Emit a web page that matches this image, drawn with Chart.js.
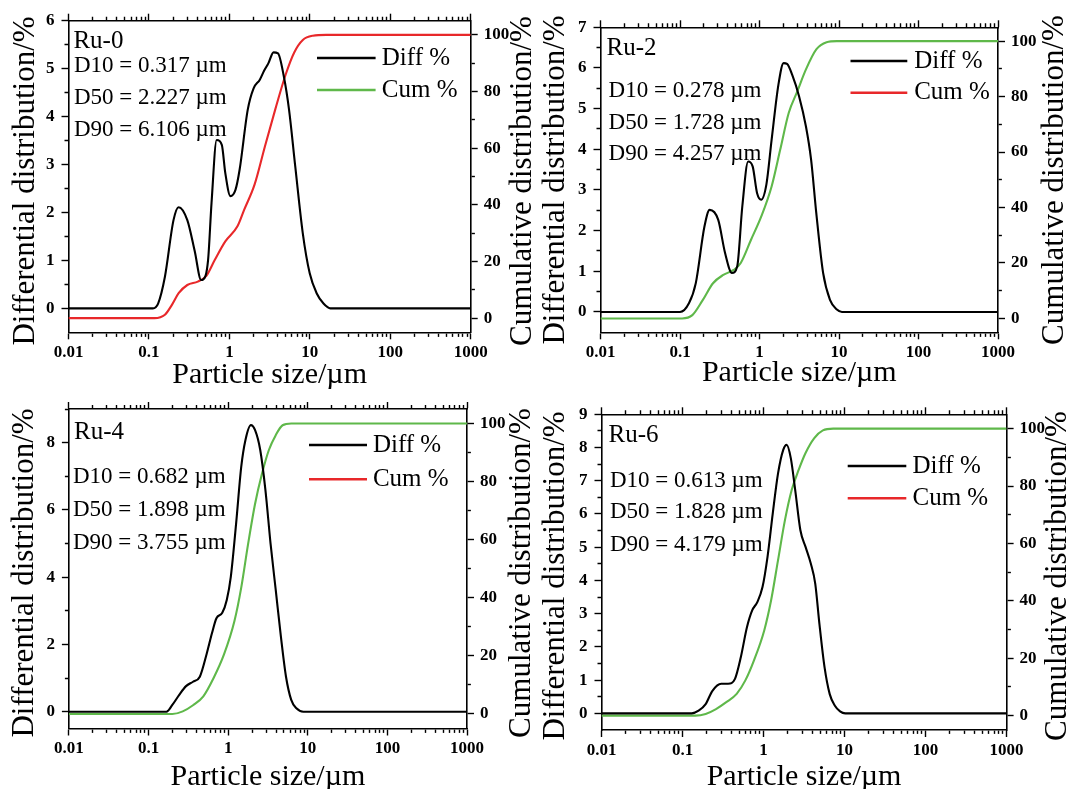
<!DOCTYPE html>
<html>
<head>
<meta charset="utf-8">
<script src="https://cdn.jsdelivr.net/npm/chart.js@4.4.1/dist/chart.umd.min.js"></script>
<style>
  body { margin: 0; background: #fff; }
  #wrap { position: relative; width: 1070px; height: 789px; overflow: hidden; background: #fff; }
  #wrap canvas { position: absolute; }
</style>
</head>
<body>
<div id="wrap"></div>
<script>
// =======================
// DATA
// =======================
const names = ["Ru-0", "Ru-2", "Ru-4", "Ru-6"];
const d10 = [0.317, 0.278, 0.682, 0.613];
const d50 = [2.227, 1.728, 1.898, 1.828];
const d90 = [6.106, 4.257, 3.755, 4.179];

// Ru-0
const ru0Size = [0.01, 0.112, 0.13, 0.158, 0.202, 0.234, 0.30, 0.37, 0.446, 0.47, 0.543, 0.6, 0.695, 0.805, 0.89, 1.03, 1.19, 1.34, 1.69, 2.0, 2.39, 2.71, 3.05, 3.54, 4.02, 4.75, 5.52, 6.59, 8.17, 9.97, 12.2, 14.8, 18.0, 1000];
const ru0Diff = [0, 0, 0.1, 0.66, 1.84, 2.11, 1.84, 1.2, 0.59, 0.6, 1.0, 2.2, 3.51, 3.41, 2.82, 2.34, 2.47, 2.89, 4.14, 4.59, 4.77, 4.96, 5.11, 5.34, 5.32, 4.84, 4.14, 2.96, 1.57, 0.73, 0.31, 0.1, 0, 0];
const ru0CumSize = [0.01, 0.117, 0.158, 0.193, 0.234, 0.30, 0.405, 0.517, 0.66, 0.89, 1.26, 1.53, 2.06, 2.77, 3.72, 5.01, 6.4, 8.18, 10.9, 16, 1000];
const ru0Cum = [0, 0, 1.2, 4.7, 8.8, 11.7, 12.9, 14.9, 20.6, 27.1, 32.4, 38.3, 47.2, 60.7, 73.7, 86.0, 93.8, 98.2, 99.7, 100, 100];

// Ru-2
const ru2Size = [0.01, 0.1, 0.13, 0.158, 0.203, 0.236, 0.302, 0.369, 0.45, 0.524, 0.608, 0.72, 0.82, 0.933, 1.05, 1.22, 1.42, 1.73, 2.01, 2.22, 2.58, 3.15, 3.84, 4.46, 5.18, 6.31, 7.7, 9.4, 10.9, 1000];
const ru2Diff = [0, 0, 0.22, 0.71, 2.10, 2.51, 2.27, 1.45, 0.96, 1.12, 2.6, 3.70, 3.58, 2.92, 2.76, 3.13, 4.23, 5.59, 6.12, 6.10, 5.83, 5.30, 4.56, 3.74, 2.43, 0.96, 0.30, 0.06, 0, 0];
const ru2CumSize = [0.01, 0.106, 0.143, 0.193, 0.26, 0.351, 0.473, 0.578, 0.78, 1.05, 1.42, 1.82, 2.33, 2.99, 3.84, 5.18, 6.98, 9.4, 1000];
const ru2Cum = [0, 0, 1.2, 6.6, 12.7, 15.7, 17.5, 19.9, 28.3, 36.7, 47.6, 60.8, 74.1, 81.9, 89.8, 97, 99.6, 100, 100];

// Ru-4
const ru4Size = [0.01, 0.168, 0.199, 0.243, 0.296, 0.362, 0.441, 0.539, 0.626, 0.713, 0.844, 0.961, 1.08, 1.26, 1.46, 1.65, 1.93, 2.18, 2.53, 2.94, 3.41, 3.96, 4.6, 5.33, 6.2, 7.2, 8.8, 1000];
const ru4Diff = [0, 0, 0.2, 0.5, 0.76, 0.89, 1.04, 1.73, 2.33, 2.78, 2.94, 3.32, 4.01, 5.6, 7.28, 8.08, 8.52, 8.37, 7.78, 6.59, 5.0, 3.62, 2.23, 1.04, 0.35, 0.1, 0, 0];
const ru4CumSize = [0.01, 0.199, 0.269, 0.362, 0.488, 0.657, 0.887, 1.2, 1.46, 1.78, 2.18, 2.66, 3.24, 3.96, 4.83, 6.2, 1000];
const ru4Cum = [0, 0, 0.9, 3.0, 6.1, 12.4, 20.5, 32.0, 43.5, 58.5, 72.4, 82.7, 90.8, 96, 99.4, 100, 100];

// Ru-6
const ru6Size = [0.01, 0.13, 0.158, 0.193, 0.234, 0.3, 0.365, 0.444, 0.524, 0.625, 0.724, 0.838, 0.971, 1.12, 1.3, 1.51, 1.75, 1.93, 2.17, 2.46, 2.85, 3.3, 3.83, 4.35, 4.89, 5.66, 6.56, 7.6, 8.8, 10.2, 1000];
const ru6Diff = [0, 0, 0.08, 0.28, 0.68, 0.89, 0.89, 1.04, 1.69, 2.6, 3.1, 3.35, 3.8, 4.71, 6.02, 7.22, 7.93, 8.08, 7.68, 6.72, 5.51, 5.01, 4.51, 3.9, 2.7, 1.39, 0.58, 0.23, 0.06, 0, 0];
const ru6CumSize = [0.01, 0.144, 0.193, 0.259, 0.347, 0.466, 0.594, 0.76, 1.02, 1.24, 1.51, 1.84, 2.23, 2.72, 3.3, 4.23, 5.4, 7.24, 1000];
const ru6Cum = [0, 0, 0.6, 2.3, 4.7, 7.6, 12.2, 19.2, 29.7, 40.2, 54.2, 68.2, 78.7, 85.7, 91.5, 96.7, 99.4, 100, 100];

// axis ranges / tick steps for the differential axis
const diffMax = [6, 7, 9, 9];
const diffTickStep = [0.5, 0.5, 1, 0.5];
const diffLabelStep = [1, 1, 2, 1];
const cumTickStep = 10;
const cumLabelStep = 20;

const RED = "#e8282a";
const GREEN = "#5fb84a";
const cumLineColor = [RED, GREEN, GREEN, GREEN];
const cumKeyColor = [GREEN, RED, RED, RED];

const SERIF = '"Liberation Serif", "Times New Roman", serif';

// =======================
// LAYOUT (page pixels)
// =======================
const layouts = [
  { box: [0, 0, 545, 395], area: [68.5, 20.7, 470.7, 332.3],
    leftTitleX: 26, rightTitleX: 523, titleMidY: 181, xTitleY: 383,
    nameX: 73.4, nameY: 48, statX: 74, statY: [72, 104, 136],
    keyX1: 317, keyX2: 375.6, keyTextX: 381.8, keyY: [58, 90] },
  { box: [530, 0, 540, 395], area: [600.5, 27.3, 998, 332.3],
    leftTitleX: 556, rightTitleX: 1055, titleMidY: 180, xTitleY: 381,
    nameX: 606.5, nameY: 55, statX: 608.6, statY: [97.3, 129, 160],
    keyX1: 850.5, keyX2: 907.3, keyTextX: 914.2, keyY: [61, 92.7] },
  { box: [0, 390, 545, 399], area: [68.9, 409, 467, 728.5],
    leftTitleX: 25, rightTitleX: 521.5, titleMidY: 573, xTitleY: 785,
    nameX: 74, nameY: 439.3, statX: 73, statY: [483.3, 516, 549.3],
    keyX1: 309, keyX2: 367, keyTextX: 372.9, keyY: [445, 479.3] },
  { box: [530, 390, 540, 399], area: [601.5, 414.3, 1006.6, 730],
    leftTitleX: 556, rightTitleX: 1058, titleMidY: 576, xTitleY: 785,
    nameX: 608.6, nameY: 441.7, statX: 610, statY: [486.7, 518.3, 551],
    keyX1: 847.7, keyX2: 906.3, keyTextX: 912.5, keyY: [466, 498.3] }
];

const series = [
  [ru0Size, ru0Diff, ru0CumSize, ru0Cum],
  [ru2Size, ru2Diff, ru2CumSize, ru2Cum],
  [ru4Size, ru4Diff, ru4CumSize, ru4Cum],
  [ru6Size, ru6Diff, ru6CumSize, ru6Cum]
];

// =======================
// HELPERS
// =======================
function toPoints(xs, ys) {
  return xs.map((x, i) => ({ x: x, y: ys[i] }));
}

function isDecade(v) {
  const l = Math.log10(v);
  return Math.abs(l - Math.round(l)) < 1e-9;
}

function onStep(v, step) {
  const r = v / step;
  return Math.abs(r - Math.round(r)) < 1e-9;
}

// 1..9 x 10^n ticks over 0.01 - 1000
function logTicks(scale) {
  const t = [];
  for (let e = -2; e < 3; e++) {
    for (let i = 1; i < 10; i++) {
      t.push({ value: +(i * Math.pow(10, e)).toPrecision(3) });
    }
  }
  t.push({ value: 1000 });
  scale.ticks = t;
}

function linTicks(max, step) {
  return scale => {
    const t = [];
    for (let v = 0; v <= max + 1e-9; v += step) t.push({ value: +v.toFixed(3) });
    scale.ticks = t;
  };
}

// long major ticks, short minor ticks (dash trick on the tick mark)
// outerFirst: tick stroke starts at its outer end (left / top axes)
function tickGrid(isMajor, outerFirst) {
  return {
    drawOnChartArea: false,
    drawTicks: true,
    tickLength: 7,
    tickWidth: 1.4,
    tickColor: "#000",
    tickBorderDash: ctx => {
      if (!ctx.tick || isMajor(ctx.tick.value)) return [];
      return outerFirst ? [0, 3, 10, 50] : [3.3, 50];
    }
  };
}

const tickFont = { family: SERIF, size: 17, weight: "bold" };
const axisBorder = { display: true, color: "#000", width: 1.6 };

// =======================
// TEXT: titles, sample label, key
// =======================
const panelText = {
  id: "panelText",
  afterDraw(chart, args, o) {
    const ctx = chart.ctx;
    const L = o.layout;
    const ox = L.box[0], oy = L.box[1];
    const a = chart.chartArea;

    ctx.save();
    ctx.fillStyle = "#000";

    // vertical axis titles (both read bottom to top)
    ctx.font = "31px " + SERIF;
    ctx.textAlign = "center";
    ctx.textBaseline = "middle";
    [[L.leftTitleX, "Differential distribution/%"], [L.rightTitleX, "Cumulative distribution/%"]].forEach(([tx, txt]) => {
      ctx.save();
      ctx.translate(tx - ox, L.titleMidY - oy);
      ctx.rotate(-Math.PI / 2);
      ctx.fillText(txt, 0, 0);
      ctx.restore();
    });

    // x title
    ctx.font = "30px " + SERIF;
    ctx.textBaseline = "alphabetic";
    ctx.fillText("Particle size/\u00b5m", (a.left + a.right) / 2, L.xTitleY - oy);

    // sample name and D values
    ctx.textAlign = "left";
    ctx.font = "25px " + SERIF;
    ctx.fillText(o.name, L.nameX - ox, L.nameY - oy);
    ctx.font = "23px " + SERIF;
    o.stats.forEach((s, i) => ctx.fillText(s, L.statX - ox, L.statY[i] - oy));

    // key
    ctx.font = "25px " + SERIF;
    ctx.textBaseline = "middle";
    ctx.lineWidth = 2.6;
    o.keys.forEach((k, i) => {
      const y = L.keyY[i] - oy;
      ctx.strokeStyle = k.color;
      ctx.beginPath();
      ctx.moveTo(L.keyX1 - ox, y);
      ctx.lineTo(L.keyX2 - ox, y);
      ctx.stroke();
      ctx.fillText(k.text, L.keyTextX - ox, y);
    });

    ctx.restore();
  }
};

// =======================
// BUILD PANELS
// =======================
const wrap = document.getElementById("wrap");

layouts.forEach((L, p) => {
  const [bx, by, bw, bh] = L.box;
  const [al, at, ar, ab] = L.area;

  const cv = document.createElement("canvas");
  cv.width = bw;
  cv.height = bh;
  cv.style.left = bx + "px";
  cv.style.top = by + "px";
  cv.style.width = bw + "px";
  cv.style.height = bh + "px";
  wrap.appendChild(cv);

  const [sx, dy, cx, cy] = series[p];
  const dStep = diffLabelStep[p];

  new Chart(cv, {
    type: "line",
    data: {
      datasets: [
        {
          label: "Diff %",
          data: toPoints(sx, dy),
          xAxisID: "x",
          yAxisID: "y",
          borderColor: "#000",
          borderWidth: 2.1,
          pointRadius: 0,
          fill: false,
          cubicInterpolationMode: "monotone"
        },
        {
          label: "Cum %",
          data: toPoints(cx, cy),
          xAxisID: "x",
          yAxisID: "y1",
          borderColor: cumLineColor[p],
          borderWidth: 2.1,
          pointRadius: 0,
          fill: false,
          cubicInterpolationMode: "monotone"
        }
      ]
    },
    options: {
      responsive: false,
      animation: false,
      devicePixelRatio: 1,
      layout: { padding: 0 },
      plugins: {
        legend: { display: false },
        tooltip: { enabled: false },
        panelText: {
          layout: L,
          name: names[p],
          stats: [
            "D10 = " + d10[p].toFixed(3) + " \u00b5m",
            "D50 = " + d50[p].toFixed(3) + " \u00b5m",
            "D90 = " + d90[p].toFixed(3) + " \u00b5m"
          ],
          keys: [
            { text: "Diff %", color: "#000" },
            { text: "Cum %", color: cumKeyColor[p] }
          ]
        }
      },
      scales: {
        x: {
          type: "logarithmic",
          position: "bottom",
          min: 0.01,
          max: 1000,
          afterBuildTicks: logTicks,
          afterFit: s => { s.height = by + bh - ab; },
          border: axisBorder,
          grid: tickGrid(isDecade, false),
          ticks: {
            autoSkip: false,
            maxRotation: 0,
            padding: 3,
            color: "#000",
            font: tickFont,
            callback: v => isDecade(v) ? String(v) : ""
          }
        },
        xTop: {
          type: "logarithmic",
          position: "top",
          min: 0.01,
          max: 1000,
          afterBuildTicks: logTicks,
          afterFit: s => { s.height = at - by; },
          border: axisBorder,
          grid: tickGrid(isDecade, true),
          ticks: { display: false, autoSkip: false }
        },
        y: {
          type: "linear",
          position: "left",
          min: -0.5,
          max: diffMax[p],
          afterBuildTicks: linTicks(diffMax[p], diffTickStep[p]),
          afterFit: s => { s.width = al - bx; },
          border: axisBorder,
          grid: tickGrid(v => onStep(v, dStep), true),
          ticks: {
            autoSkip: false,
            padding: 7,
            color: "#000",
            font: tickFont,
            callback: v => onStep(v, dStep) ? String(v) : ""
          }
        },
        y1: {
          type: "linear",
          position: "right",
          min: -5,
          max: 105,
          afterBuildTicks: linTicks(100, cumTickStep),
          afterFit: s => { s.width = bx + bw - ar; },
          border: axisBorder,
          grid: tickGrid(v => onStep(v, cumLabelStep), false),
          ticks: {
            autoSkip: false,
            padding: 6,
            color: "#000",
            font: tickFont,
            callback: v => onStep(v, cumLabelStep) ? String(v) : ""
          }
        }
      }
    },
    plugins: [panelText]
  });
});
</script>
</body>
</html>
